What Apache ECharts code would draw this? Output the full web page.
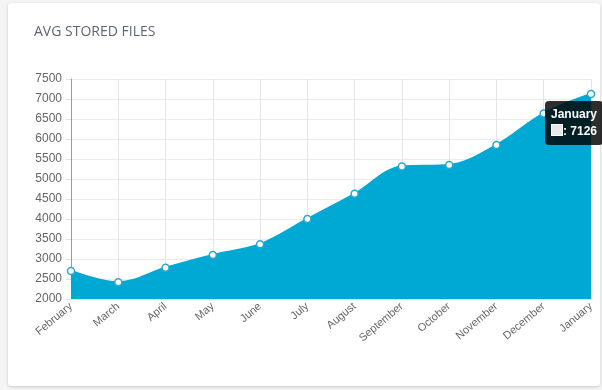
<!DOCTYPE html>
<html><head><meta charset="utf-8">
<script src="https://cdn.jsdelivr.net/npm/echarts@6/dist/echarts.min.js"></script>
<style>
html,body{margin:0;padding:0;background:#f4f4f4;width:602px;height:390px;overflow:hidden;}
#card{position:absolute;left:8px;top:3px;width:592px;height:383px;background:#fff;border-radius:3px;box-shadow:0 1px 3px rgba(0,0,0,0.18);}
#chart{position:absolute;left:0;top:0;width:602px;height:390px;}
</style></head>
<body>
<div id="card"></div>
<div id="chart"></div>
<script>
var categories = ['February','March','April','May','June','July','August','September','October','November','December','January'];
var storedFiles = [2700, 2420, 2780, 3100, 3370, 4000, 4630, 5315, 5350, 5850, 6640, 7126];
var yTicks = {min: 2000, max: 7500, interval: 500};

var chart = echarts.init(document.getElementById('chart'), null, {renderer:'canvas'});
chart.setOption({
  animation: false,
  title: {
    text: 'AVG STORED FILES', left: 29, top: 20,
    textStyle: {fontFamily: 'Open Sans', fontSize: 14, fontWeight: 'normal', color: '#5d6875'}
  },
  grid: {left: 71, right: 11, top: 79, bottom: 91},
  tooltip: {
    trigger: 'item', triggerOn: 'none', alwaysShowContent: true,
    backgroundColor: 'rgba(0,0,0,0.82)', borderWidth: 0, padding: [5, 6],
    extraCssText: 'border-radius:4px;box-shadow:none;',
    position: function(){ return [545, 101]; },
    formatter: function(p){
      return '<div style="font:bold 12px Arial,Liberation Sans,sans-serif;color:#fff;line-height:17px;">' + p.name +
        '<br><span style="display:inline-block;width:10px;height:10px;background:#e8e8e8;border:1px solid #fff;vertical-align:-1px;"></span>: ' + p.value + '</div>';
    }
  },
  xAxis: {
    type: 'category', data: categories, boundaryGap: false,
    axisLine: {show: true, lineStyle: {color: '#e6e6e6'}},
    axisTick: {show: false},
    axisLabel: {rotate: 40, color: '#666', fontFamily: 'Liberation Sans', fontSize: 11, margin: 6, interval: 0},
    splitLine: {show: true, lineStyle: {color: '#e6e6e6'}}
  },
  yAxis: {
    type: 'value', min: yTicks.min, max: yTicks.max, interval: yTicks.interval,
    axisLine: {show: true, lineStyle: {color: '#9a9a9a'}},
    axisTick: {show: true, length: 5, lineStyle: {color: '#e0e0e0'}},
    axisLabel: {color: '#666', fontFamily: 'Liberation Sans', fontSize: 12, margin: 9,
      formatter: function(v){ return String(v); }},
    splitLine: {show: true, lineStyle: {color: '#ececec'}}
  },
  series: [{
    type: 'line', data: storedFiles, smooth: 0.35,
    symbol: 'circle', symbolSize: 7,
    itemStyle: {color: '#fff', borderColor: '#2aa8cf', borderWidth: 1.5},
    lineStyle: {color: '#00a9d4', width: 2},
    areaStyle: {color: '#00a9d4', opacity: 1},
    emphasis: {scale: 1.3}
  }]
});
chart.dispatchAction({type: 'showTip', seriesIndex: 0, dataIndex: 11});
</script>
</body></html>
